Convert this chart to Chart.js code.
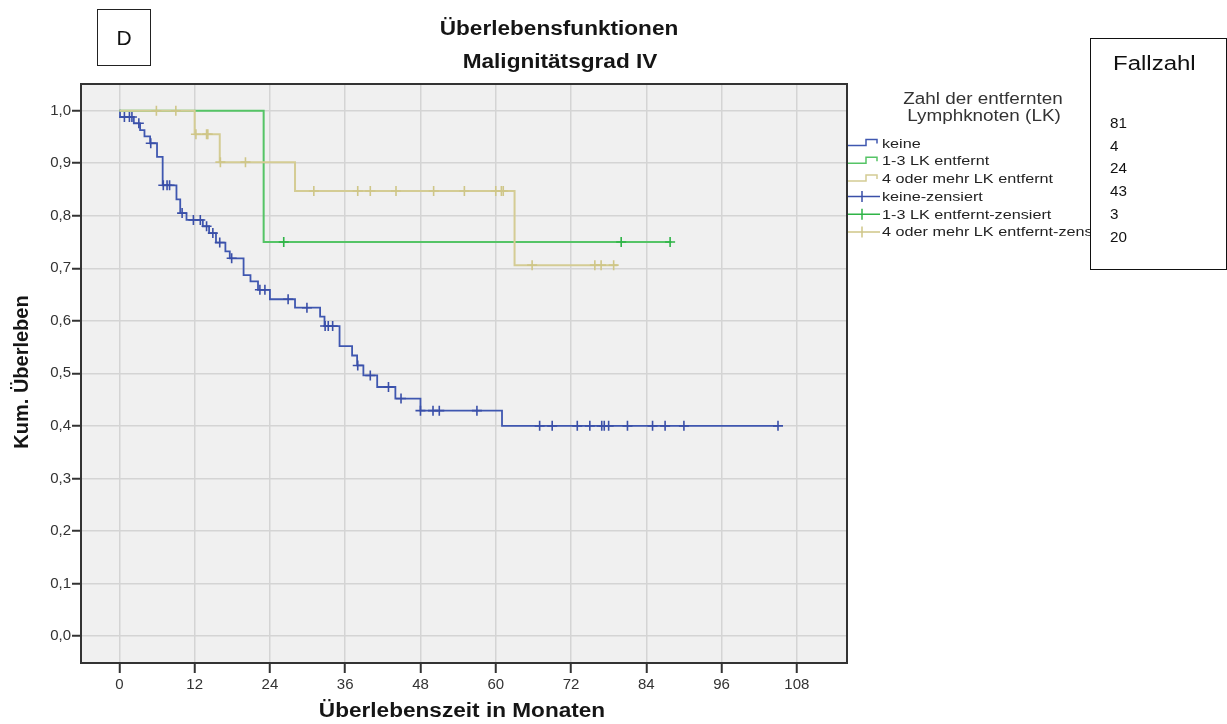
<!DOCTYPE html>
<html>
<head>
<meta charset="utf-8">
<script src="https://cdn.jsdelivr.net/npm/chart.js@4.4.1/dist/chart.umd.min.js"></script>
<style>
  body { margin: 0; background: #ffffff; }
  canvas { display: block; }
</style>
</head>
<body>
<canvas id="kmChart" width="1227" height="724"></canvas>
<script>
// axis ticks
const xTicks = [0, 12, 24, 36, 48, 60, 72, 84, 96, 108];
const yTicks = [0, 0.1, 0.2, 0.3, 0.4, 0.5, 0.6, 0.7, 0.8, 0.9, 1.0];

// keine LK entfernt: event times (months) and survival after each step
const keineTime = [0, 0.1, 2.3, 3.3, 4.0, 4.9, 6.0, 6.9, 9.1, 9.7, 10.7, 13.3, 14.3, 15.4, 16.9, 17.6, 19.8, 20.9, 22.1, 24.0, 28.0, 32.0, 32.7, 35.1, 37.1, 37.9, 38.9, 41.1, 44.0, 48.0, 61.0, 105.0];
const keineSurv = [1.0, 0.988, 0.976, 0.963, 0.951, 0.938, 0.912, 0.858, 0.831, 0.805, 0.792, 0.780, 0.767, 0.749, 0.732, 0.719, 0.687, 0.675, 0.659, 0.641, 0.625, 0.608, 0.590, 0.552, 0.534, 0.515, 0.496, 0.474, 0.452, 0.429, 0.400, 0.400];
const keineCensored = [0.8, 1.6, 2.0, 3.1, 5.0, 7.0, 7.6, 8.0, 10.0, 11.8, 12.9, 13.9, 14.9, 16.0, 17.9, 22.4, 23.2, 26.9, 29.9, 32.8, 33.3, 34.0, 38.0, 40.0, 42.9, 44.9, 48.0, 50.0, 51.0, 57.0, 67.0, 69.0, 73.0, 75.0, 76.9, 77.3, 78.0, 81.0, 85.0, 87.0, 90.0, 105.0];

// 1-3 LK entfernt
const lk13Time = [0, 23.0, 88.0];
const lk13Surv = [1.0, 0.75, 0.75];
const lk13Censored = [26.2, 80.0, 87.8];

// 4 oder mehr LK entfernt
const lk4Time = [0, 12.0, 16.0, 28.0, 63.0, 79.4];
const lk4Surv = [1.0, 0.955, 0.902, 0.847, 0.706, 0.706];
const lk4Censored = [5.9, 9.0, 12.2, 13.9, 14.1, 16.1, 20.1, 31.0, 38.0, 40.0, 44.1, 50.1, 55.0, 60.0, 60.9, 61.2, 65.8, 75.8, 76.8, 78.8];

const legendLabels = ["keine", "1-3 LK entfernt", "4 oder mehr LK entfernt", "keine-zensiert", "1-3 LK entfernt-zensiert", "4 oder mehr LK entfernt-zensiert"];
const fallzahl = ["81", "4", "24", "43", "3", "20"];

const blue = "#3f57b0";
const green = "#55c466";
const tan = "#d4cc94";
const blueMark = "#3a4fa8";
const greenMark = "#2fb447";
const tanMark = "#cfc688";

function toPoints(times, surv) {
  return times.map((t, i) => ({ x: t, y: surv[i] }));
}

// survival level of a step curve at time t
function levelAt(times, surv, t) {
  let v = surv[0];
  for (let i = 0; i < times.length; i++) {
    if (times[i] <= t) v = surv[i];
  }
  return v;
}

function censorPoints(times, surv, cens) {
  return cens.map(t => ({ x: t, y: levelAt(times, surv, t) }));
}

function stepLine(label, data, color, width, order) {
  return {
    type: "line", label, data, stepped: true,
    borderColor: color, borderWidth: width,
    pointRadius: 0, fill: false, order
  };
}

function censorSet(label, data, color, order) {
  return {
    type: "scatter", label, data,
    pointStyle: "cross", pointRadius: 5, pointHoverRadius: 5,
    borderColor: color, borderWidth: 1.6, showLine: false, order
  };
}

// draws text squeezed or widened horizontally around x
function stretchText(ctx, str, x, y, font, sx, align) {
  ctx.save();
  ctx.font = font;
  ctx.textAlign = align || "center";
  ctx.textBaseline = "middle";
  ctx.translate(x, y);
  ctx.scale(sx, 1);
  ctx.fillText(str, 0, 0);
  ctx.restore();
}

const decorations = {
  id: "decorations",
  beforeDraw(chart) {
    const { ctx, chartArea: a } = chart;
    ctx.save();
    ctx.fillStyle = "#ffffff";
    ctx.fillRect(0, 0, chart.width, chart.height);
    ctx.fillStyle = "#f0f0f0";
    ctx.fillRect(a.left, a.top, a.right - a.left, a.bottom - a.top);
    ctx.restore();
  },
  afterDraw(chart) {
    const { ctx, chartArea: a } = chart;
    ctx.save();

    // plot frame
    ctx.strokeStyle = "#333333";
    ctx.lineWidth = 2;
    ctx.strokeRect(a.left, a.top, a.right - a.left, a.bottom - a.top);

    // panel letter
    ctx.lineWidth = 1;
    ctx.strokeStyle = "#222222";
    ctx.strokeRect(97.5, 9.5, 53, 56);
    ctx.fillStyle = "#111111";
    stretchText(ctx, "D", 124, 39, "21px 'Liberation Sans', Arial, sans-serif", 1.0);

    // titles
    ctx.fillStyle = "#151515";
    stretchText(ctx, "Überlebensfunktionen", 559, 29, "bold 20px 'Liberation Sans', Arial, sans-serif", 1.13);
    stretchText(ctx, "Malignitätsgrad IV", 560, 62, "bold 20px 'Liberation Sans', Arial, sans-serif", 1.13);
    stretchText(ctx, "Überlebenszeit in Monaten", 462, 711, "bold 20px 'Liberation Sans', Arial, sans-serif", 1.13);

    ctx.save();
    ctx.translate(22, 372);
    ctx.rotate(-Math.PI / 2);
    stretchText(ctx, "Kum. Überleben", 0, 0, "bold 20px 'Liberation Sans', Arial, sans-serif", 1.0);
    ctx.restore();

    // legend
    ctx.fillStyle = "#333333";
    stretchText(ctx, "Zahl der entfernten", 983, 100, "16px 'Liberation Sans', Arial, sans-serif", 1.18);
    stretchText(ctx, "Lymphknoten (LK)", 984, 117, "16px 'Liberation Sans', Arial, sans-serif", 1.18);

    const lineCols = [blue, green, tan, blueMark, greenMark, tanMark];
    legendLabels.forEach((lab, i) => {
      const ty = 144 + i * 17.7;
      ctx.strokeStyle = lineCols[i];
      ctx.lineWidth = 1.5;
      ctx.beginPath();
      if (i < 3) {
        const y0 = ty + 1.5;
        ctx.moveTo(848, y0);
        ctx.lineTo(866, y0);
        ctx.lineTo(866, y0 - 6);
        ctx.lineTo(877, y0 - 6);
        ctx.lineTo(877, y0 - 2);
      } else {
        ctx.moveTo(848, ty - 0.5);
        ctx.lineTo(880, ty - 0.5);
        ctx.moveTo(862, ty - 6);
        ctx.lineTo(862, ty + 5);
      }
      ctx.stroke();
      ctx.fillStyle = "#222222";
      stretchText(ctx, lab, 882, ty, "13.5px 'Liberation Sans', Arial, sans-serif", 1.2, "left");
    });

    // case count box
    ctx.fillStyle = "#ffffff";
    ctx.fillRect(1090.5, 38.5, 136, 231);
    ctx.strokeStyle = "#111111";
    ctx.lineWidth = 1;
    ctx.strokeRect(1090.5, 38.5, 136, 231);
    ctx.fillStyle = "#111111";
    stretchText(ctx, "Fallzahl", 1113, 64, "20px 'Liberation Sans', Arial, sans-serif", 1.2, "left");
    fallzahl.forEach((n, i) => {
      stretchText(ctx, n, 1110, 124 + i * 22.7, "14.5px 'Liberation Sans', Arial, sans-serif", 1.05, "left");
    });

    ctx.restore();
  }
};

new Chart(document.getElementById("kmChart"), {
  data: {
    datasets: [
      censorSet("4 oder mehr LK entfernt-zensiert", censorPoints(lk4Time, lk4Surv, lk4Censored), tanMark, 0),
      censorSet("1-3 LK entfernt-zensiert", censorPoints(lk13Time, lk13Surv, lk13Censored), greenMark, 1),
      censorSet("keine-zensiert", censorPoints(keineTime, keineSurv, keineCensored), blueMark, 2),
      stepLine("4 oder mehr LK entfernt", toPoints(lk4Time, lk4Surv), tan, 2, 3),
      stepLine("1-3 LK entfernt", toPoints(lk13Time, lk13Surv), green, 2, 4),
      stepLine("keine", toPoints(keineTime, keineSurv), blue, 1.8, 5)
    ]
  },
  options: {
    responsive: false,
    animation: false,
    devicePixelRatio: 1,
    layout: { padding: { left: 0, top: 84, right: 380, bottom: 0 } },
    plugins: {
      legend: { display: false },
      title: { display: false },
      tooltip: { enabled: false }
    },
    scales: {
      x: {
        type: "linear",
        min: -6.12,
        max: 116,
        afterBuildTicks: s => { s.ticks = xTicks.map(v => ({ value: v })); },
        afterFit: s => { s.height = 61; },
        grid: { color: "#d4d4d4", lineWidth: 1.5, tickColor: "#333333", tickLength: 10, tickWidth: 2 },
        border: { display: true, color: "#333333", width: 2 },
        ticks: {
          autoSkip: false, maxRotation: 0, padding: 3, color: "#333333",
          font: { family: "'Liberation Sans', Arial, sans-serif", size: 15 },
          callback: v => String(v)
        }
      },
      y: {
        type: "linear",
        min: -0.0514,
        max: 1.0508,
        afterBuildTicks: s => { s.ticks = yTicks.map(v => ({ value: v })); },
        afterFit: s => { s.width = 81; },
        grid: { color: "#d4d4d4", lineWidth: 1.5, tickColor: "#333333", tickLength: 9, tickWidth: 2 },
        border: { display: true, color: "#333333", width: 2 },
        ticks: {
          padding: 1, color: "#333333",
          font: { family: "'Liberation Sans', Arial, sans-serif", size: 15 },
          callback: v => v.toFixed(1).replace(".", ",")
        }
      }
    }
  },
  plugins: [decorations]
});
</script>
</body>
</html>
